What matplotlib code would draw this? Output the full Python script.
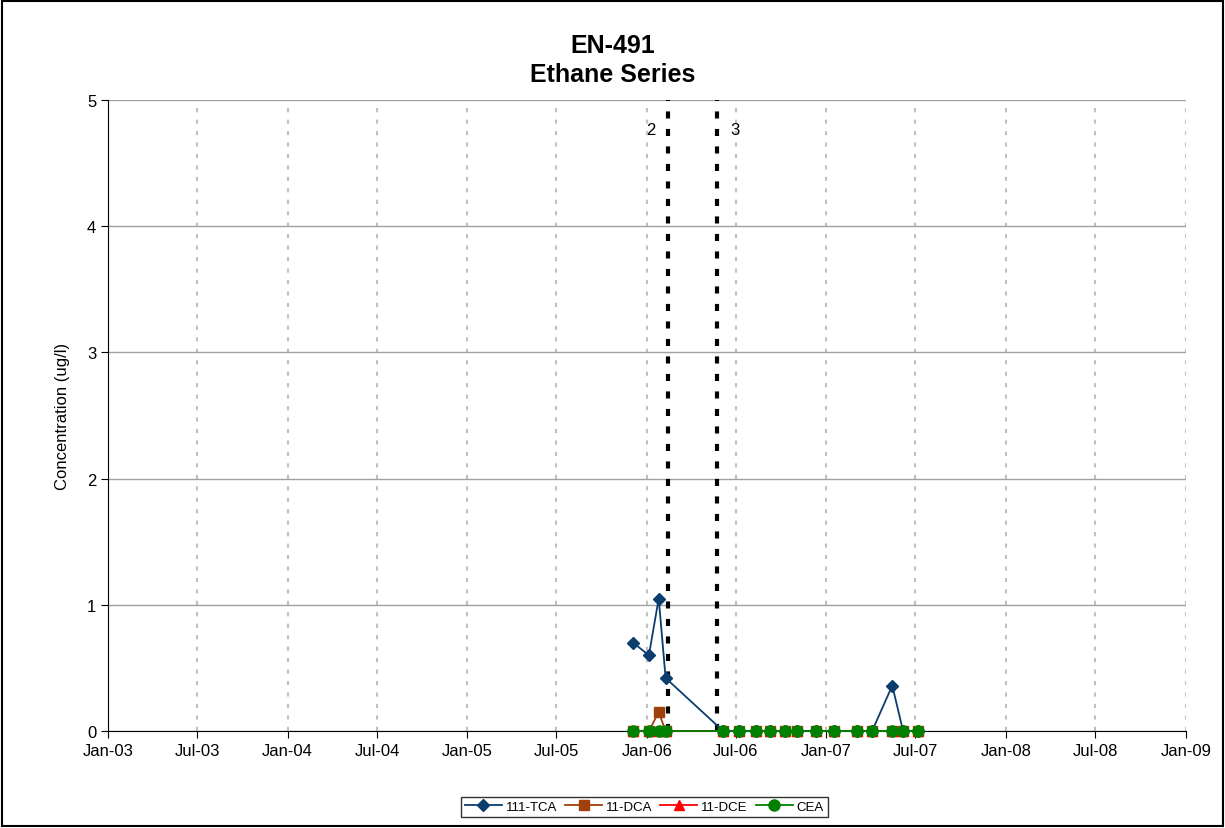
import numpy as np
import pandas as pd
import matplotlib
matplotlib.use("Agg")
from matplotlib import pyplot as plt
import matplotlib.dates as mdates

plt.rcParams['font.family'] = ['Liberation Sans', 'DejaVu Sans']

# sample dates
dates = pd.to_datetime([
	"2005-12-04", "2006-01-05", "2006-01-25", "2006-02-08",
	"2006-06-05", "2006-07-07", "2006-08-11", "2006-09-09",
	"2006-10-09", "2006-11-02", "2006-12-10", "2007-01-17",
	"2007-03-04", "2007-04-04", "2007-05-15", "2007-06-06",
	"2007-07-07",
])
tca = [0.7, 0.6, 1.05, 0.42, 0, 0, 0, 0, 0, 0, 0, 0, 0, 0, 0.36, 0, 0]
dca = [0, 0, 0.15, 0, 0, 0, 0, 0, 0, 0, 0, 0, 0, 0, 0, 0, 0]
dce = [0, 0, 0, 0, 0, 0, 0, 0, 0, 0, 0, 0, 0, 0, 0, 0, 0]
cea = [0, 0, 0, 0, 0, 0, 0, 0, 0, 0, 0, 0, 0, 0, 0, 0, 0]

events = pd.to_datetime(["2006-02-12", "2006-05-23"])
event_labels = ["2", "3"]

fig = plt.figure(figsize=(12.25, 8.29), dpi=100)
ax = fig.add_axes([0.0882, 0.117, 0.8798, 0.761])

ax.plot(dates, tca, color="#0b3d6e", marker="D", markersize=6, lw=1.3, label="111-TCA", zorder=5, clip_on=False)
ax.plot(dates, dca, color="#a0400a", marker="s", markersize=7, lw=1.3, label="11-DCA", zorder=4, clip_on=False)
ax.plot(dates, dce, color="#ff0000", marker="^", markersize=7, lw=1.3, label="11-DCE", zorder=4, clip_on=False)
ax.plot(dates, cea, color="#008000", marker="o", markersize=8, lw=1.3, label="CEA", zorder=6, clip_on=False)

for d in events:
	ax.axvline(d, color="black", lw=3, ls=(0, (1.7, 2.5)), zorder=3)
ax.text(events[0] - pd.Timedelta(days=34), 4.77, event_labels[0], ha="center", va="center", fontsize=12)
ax.text(events[1] + pd.Timedelta(days=38), 4.77, event_labels[1], ha="center", va="center", fontsize=12)

ax.set_xlim(pd.Timestamp("2003-01-01"), pd.Timestamp("2009-01-01"))
ax.set_ylim(0, 5)
ax.set_yticks([0, 1, 2, 3, 4, 5])
ax.xaxis.set_major_locator(mdates.MonthLocator(bymonth=[1, 7]))
ax.xaxis.set_major_formatter(mdates.DateFormatter("%b-%y"))
ax.tick_params(labelsize=12, direction="out", length=5)

ax.grid(axis="y", color="#a0a0a0", lw=1, ls="-")
ax.grid(axis="x", color="#c0c0c0", lw=1.5, ls=(0, (2, 3.5)))
ax.set_axisbelow(True)
for side in ["top", "right"]:
	ax.spines[side].set_visible(False)

ax.set_ylabel("Concentration (ug/l)", fontsize=12, labelpad=12)
fig.text(0.5, 0.927, "EN-491\nEthane Series", ha="center", va="center",
	fontsize=18, fontweight="bold", linespacing=1.25)

fig.legend(loc="center", bbox_to_anchor=(0.526, 0.0255), ncol=4, fontsize=9.5,
	frameon=True, fancybox=False, edgecolor="black", handlelength=2.8,
	columnspacing=0.6, handletextpad=0.3, borderpad=0.3)

# outer border
fig.patches.append(plt.Rectangle((0.002, 0.002), 0.996, 0.996, transform=fig.transFigure,
	fill=False, edgecolor="black", lw=1.5))

fig.savefig("out.png", dpi=100)
